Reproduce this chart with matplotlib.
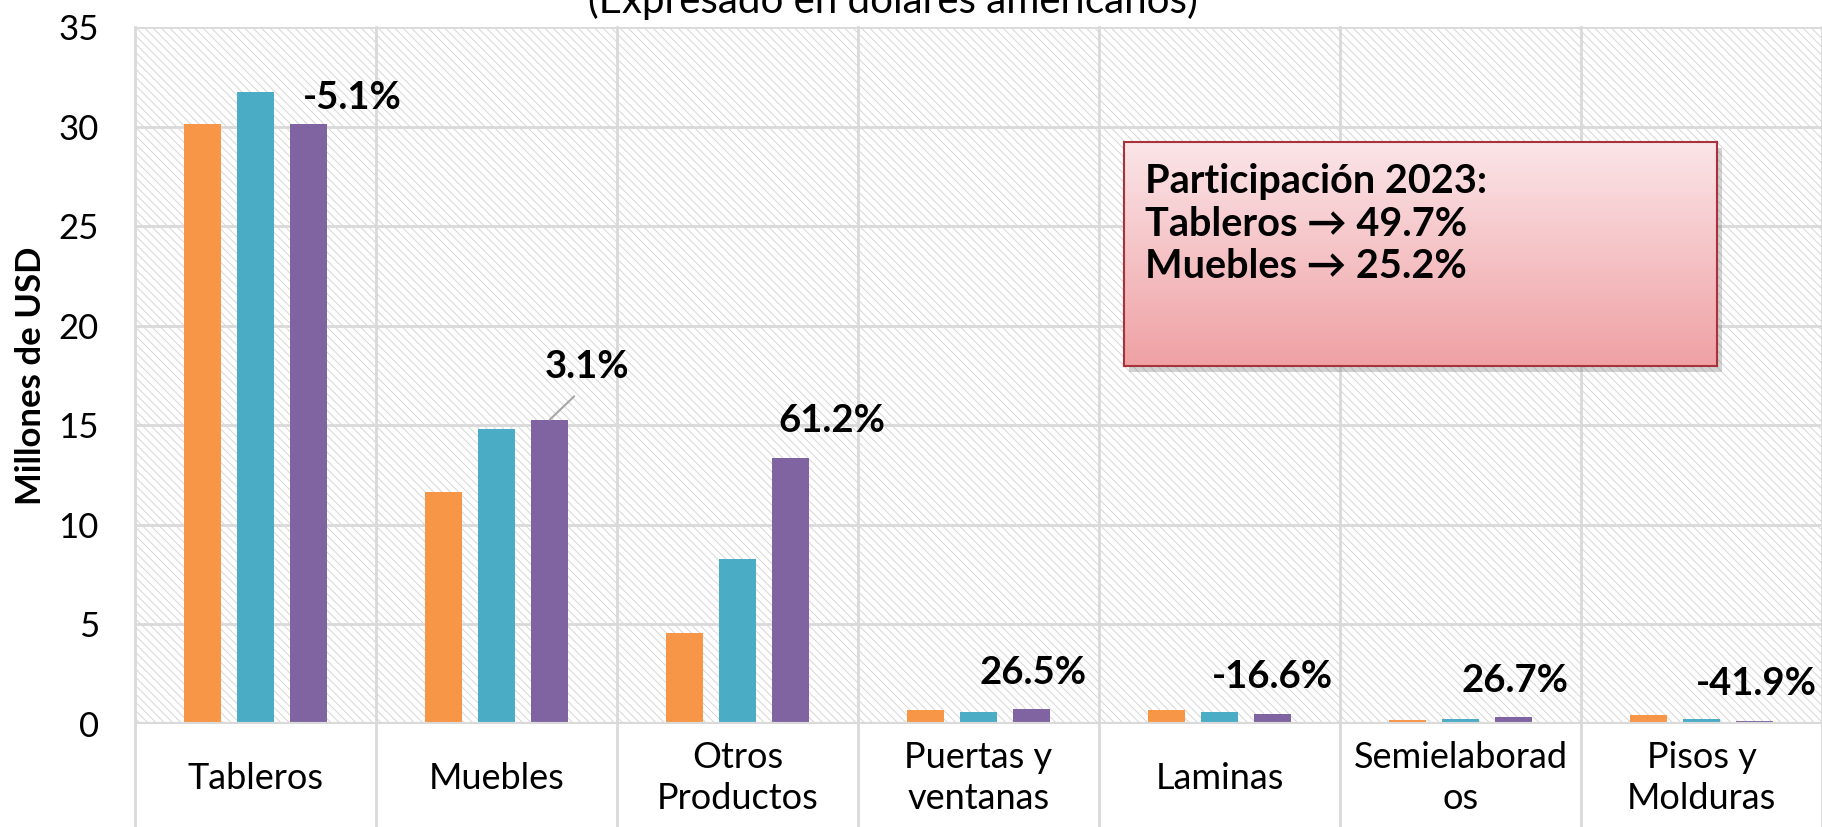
import numpy as np
import matplotlib
matplotlib.use("Agg")
import matplotlib.pyplot as plt
from matplotlib.patches import Rectangle
from matplotlib.colors import LinearSegmentedColormap

plt.rcParams['font.family'] = ['Lato', 'DejaVu Sans']
plt.rcParams['hatch.linewidth'] = 0.7

# Datos (millones de USD)
categorias = ["Tableros", "Muebles", "Otros\nProductos", "Puertas y\nventanas",
              "Laminas", "Semielaborad\nos", "Pisos y\nMolduras"]
serie_2021 = [30.13, 11.65, 4.57, 0.68, 0.68, 0.21, 0.43]
serie_2022 = [31.72, 14.80, 8.29, 0.59, 0.59, 0.26, 0.24]
serie_2023 = [30.13, 15.28, 13.38, 0.75, 0.49, 0.33, 0.14]
variacion = ["-5.1%", "3.1%", "61.2%", "26.5%", "-16.6%", "26.7%", "-41.9%"]

colores = ['#F79646', '#4BACC6', '#8064A2']
gris = '#D9D9D9'

# posicion de las etiquetas de variacion respecto a la barra 2023
etq_dx = [0.18, 0.155, 0.17, 0.005, 0.0, 0.005, 0.005]
etq_dy = [1.3, 2.65, 1.85, 1.8, 1.87, 1.83, 1.87]

W, H = 1822, 827
fig = plt.figure(figsize=(W / 100, H / 100), dpi=100)
ax = fig.add_axes([135 / W, 103 / H, 1687 / W, 697 / H])

# fondo rayado
ax.add_patch(Rectangle((0, 0), 1, 1, transform=ax.transAxes, facecolor='white',
                       hatch='\\\\\\\\', edgecolor='#D6D6D6', lw=0, zorder=0))

x = np.arange(len(categorias))
ancho = 0.154
sep = 0.221
for k, serie in enumerate([serie_2021, serie_2022, serie_2023]):
    ax.bar(x + (k - 1) * sep, serie, width=ancho, color=colores[k], zorder=3)

ax.set_xlim(-0.5, len(categorias) - 0.5)
ax.set_ylim(0, 35)
ax.set_yticks(range(0, 36, 5))
ax.set_xticks([])
ax.tick_params(axis='y', length=0, pad=26, labelsize=25)
for s in ax.spines.values():
    s.set_visible(False)

for yv in range(5, 36, 5):
    ax.axhline(yv, color=gris, lw=2, zorder=1)
ax.axhline(0, color=gris, lw=3, zorder=4)
for k in range(len(categorias) + 1):
    ax.axvline(k - 0.5, ymin=-0.16, ymax=1, color=gris, lw=2, clip_on=False, zorder=1)

# etiquetas de categoria
for i, c in enumerate(categorias):
    ax.text(i, -0.0775, c, transform=ax.get_xaxis_transform(), ha='center', va='center',
            fontsize=26, linespacing=1.33)

# variaciones
for i, txt in enumerate(variacion):
    xb = i + sep
    pos = (xb + etq_dx[i], serie_2023[i] + etq_dy[i])
    if i == 1:
        ax.annotate(txt, xy=(xb, serie_2023[i]), xytext=pos, ha='center', va='center',
                    fontsize=27.5, fontweight='bold', zorder=5,
                    arrowprops=dict(arrowstyle='-', color='#A6A6A6', lw=1.5,
                                    shrinkA=10, shrinkB=0, relpos=(0.5, 0)))
    else:
        ax.text(pos[0], pos[1], txt, ha='center', va='center', fontsize=27.5,
                fontweight='bold', zorder=5)

ax.set_ylabel("Millones de USD", fontsize=25, fontweight='bold')
ax.yaxis.set_label_coords(-88 / 1687, 0.5)

fig.text(893 / W, 1 - 13 / H, "(Expresado en dólares americanos)", ha='center',
         va='baseline', fontsize=29)

# cuadro de participacion
bx0, by0, bw, bh = 1124, 142, 593, 224
fig.add_artist(Rectangle(((bx0 + 5) / W, (H - by0 - bh - 6) / H), bw / W, bh / H,
                         transform=fig.transFigure, color='#7F7F7F', alpha=0.35,
                         lw=0, zorder=1.5))
bax = fig.add_axes([bx0 / W, (H - by0 - bh) / H, bw / W, bh / H])
bax.set_zorder(3)
cmap = LinearSegmentedColormap.from_list('rosa', ['#FBE5E8', '#EFA1A4'])
bax.imshow(np.linspace(0, 1, 256).reshape(-1, 1), cmap=cmap, aspect='auto',
           extent=[0, 1, 0, 1])
bax.set_xticks([])
bax.set_yticks([])
for s in bax.spines.values():
    s.set_color('#A8323B')
    s.set_linewidth(1.5)
bax.text(0.035, 0.905, "Participación 2023:\nTableros → 49.7%\nMuebles → 25.2%",
         transform=bax.transAxes, ha='left', va='top', fontsize=28.5,
         fontweight='bold', linespacing=1.18)

fig.savefig("out.png", dpi=100)
